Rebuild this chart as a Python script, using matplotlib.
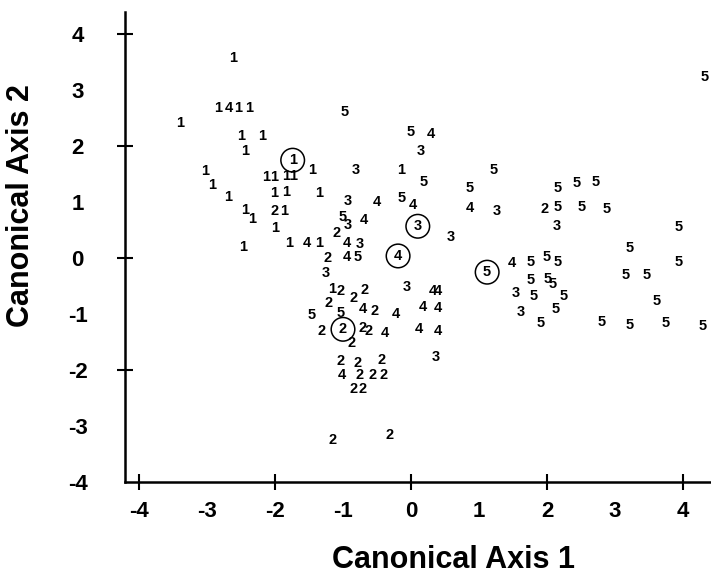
import matplotlib
matplotlib.use("Agg")
import matplotlib.pyplot as plt

plt.rcParams['font.family'] = ['Liberation Sans', 'DejaVu Sans']

# canonical scores, one list pair per group
x1 = [-2.62, -2.84, -2.54, -2.38, -3.40, -2.50, -2.19, -2.44, -3.03, -2.93,
      -2.13, -2.01, -1.84, -1.74, -1.46, -2.01, -1.84, -1.35, -2.69, -2.44,
      -2.34, -1.87, -2.00, -2.47, -1.79, -1.35, -0.15, -1.16]
y1 = [3.56, 2.67, 2.67, 2.67, 2.40, 2.17, 2.17, 1.90, 1.55, 1.30,
      1.44, 1.44, 1.46, 1.46, 1.56, 1.15, 1.17, 1.15, 1.08, 0.85,
      0.69, 0.83, 0.53, 0.19, 0.26, 0.26, 1.56, -0.56]

x2 = [-2.00, -1.22, -1.03, -1.21, -0.84, -0.68, -0.53, -1.31, -0.71, -0.63,
      -0.88, -1.04, -0.79, -0.43, -0.76, -0.56, -0.40, -0.85, -0.71, -1.16,
      -0.32, 1.96, -1.09]
y2 = [0.83, -0.01, -0.60, -0.81, -0.72, -0.58, -0.95, -1.31, -1.26, -1.31,
      -1.53, -1.85, -1.88, -1.83, -2.10, -2.10, -2.10, -2.35, -2.35, -3.26,
      -3.17, 0.87, 0.44]

x3 = [-0.81, 0.15, -0.93, -0.93, -0.76, 0.59, -1.25, -0.06, 0.37, 1.26,
      2.15, 1.54, 1.62]
y3 = [1.56, 1.90, 1.01, 0.58, 0.24, 0.37, -0.28, -0.53, -1.78, 0.83,
      0.56, -0.63, -0.97]

x4 = [0.29, -0.50, 0.03, -0.69, -0.94, -1.53, -0.94, 0.32, 0.40, -0.71,
      -0.22, 0.18, 0.40, -0.38, 0.12, 0.40, -1.01, 0.87, 1.49, -2.68]
y4 = [2.21, 0.99, 0.94, 0.67, 0.26, 0.26, 0.01, -0.60, -0.60, -0.92,
      -1.01, -0.88, -0.90, -1.35, -1.28, -1.31, -2.10, 0.89, -0.10, 2.67]

x5 = [-0.97, 0.00, -0.13, 0.18, -1.01, -0.79, -1.46, -1.03, 0.87, 1.22,
      2.15, 2.43, 2.72, 2.15, 2.51, 2.88, 3.21, 1.76, 2.00, 2.15,
      3.16, 3.47, 1.76, 2.01, 2.09, 1.81, 2.25, 2.13, 1.90, 2.81,
      3.21, 3.75, 4.29, 3.62, 3.93, 3.94, 4.32]
y5 = [2.60, 2.24, 1.06, 1.35, 0.73, 0.01, -1.03, -0.99, 1.24, 1.56,
      1.24, 1.33, 1.35, 0.90, 0.90, 0.87, 0.17, -0.08, 0.01, -0.08,
      -0.31, -0.31, -0.40, -0.38, -0.47, -0.69, -0.69, -0.92, -1.17, -1.15,
      -1.20, -1.17, -1.22, -0.78, 0.55, -0.08, 3.23]

# group means (circled)
mean_lab = [1, 2, 3, 4, 5]
mean_x = [-1.74, -1.00, 0.10, -0.19, 1.12]
mean_y = [1.74, -1.28, 0.56, 0.03, -0.26]

groups = [(1, x1, y1), (2, x2, y2), (3, x3, y3), (4, x4, y4), (5, x5, y5)]

fig = plt.figure(figsize=(7.11, 5.75), dpi=100)
ax = fig.add_axes([0.1758, 0.1624, 0.8242, 0.8167])

for lab, xs, ys in groups:
    for x, y in zip(xs, ys):
        ax.text(x, y, str(lab), ha='center', va='center', fontsize=10.5,
                fontweight='bold', clip_on=False)

ax.scatter(mean_x, mean_y, s=17**2, facecolors='none', edgecolors='black',
           linewidths=1.1, clip_on=False)
for lab, x, y in zip(mean_lab, mean_x, mean_y):
    ax.text(x, y, str(lab), ha='center', va='center', fontsize=10.5,
            fontweight='bold')

ax.set_xlim(-4.206, 4.412)
ax.set_ylim(-4, 4.386)

ticks = list(range(-4, 5))
ax.set_xticks(ticks)
ax.set_xticklabels([str(t) for t in ticks], fontsize=16, fontweight='bold')
ax.set_yticks(ticks)
ax.set_yticklabels([str(t) for t in ticks], fontsize=16, fontweight='bold')
for lbl in ax.get_yticklabels():
    lbl.set_horizontalalignment('center')

# tick marks only on even values, crossing the axis line
ax.xaxis.remove_overlapping_locs = False
ax.yaxis.remove_overlapping_locs = False
ax.set_xticks([-4, -2, 0, 2, 4], minor=True)
ax.set_yticks([-2, 0, 2, 4], minor=True)
ax.tick_params(which='major', length=0)
ax.tick_params(axis='x', which='major', pad=14)
ax.tick_params(axis='y', which='major', pad=34)
ax.tick_params(which='minor', direction='inout', length=11, width=1.5)

for side in ['top', 'right']:
    ax.spines[side].set_visible(False)
for side in ['left', 'bottom']:
    ax.spines[side].set_linewidth(1.8)

fig.text(453 / 711, 1 - 560 / 575, 'Canonical Axis 1', ha='center', va='center',
         fontsize=22, fontweight='bold')
fig.text(21 / 711, 1 - 206 / 575, 'Canonical Axis 2', ha='center', va='center',
         rotation=90, fontsize=22, fontweight='bold')

fig.savefig('out.png', dpi=100)
